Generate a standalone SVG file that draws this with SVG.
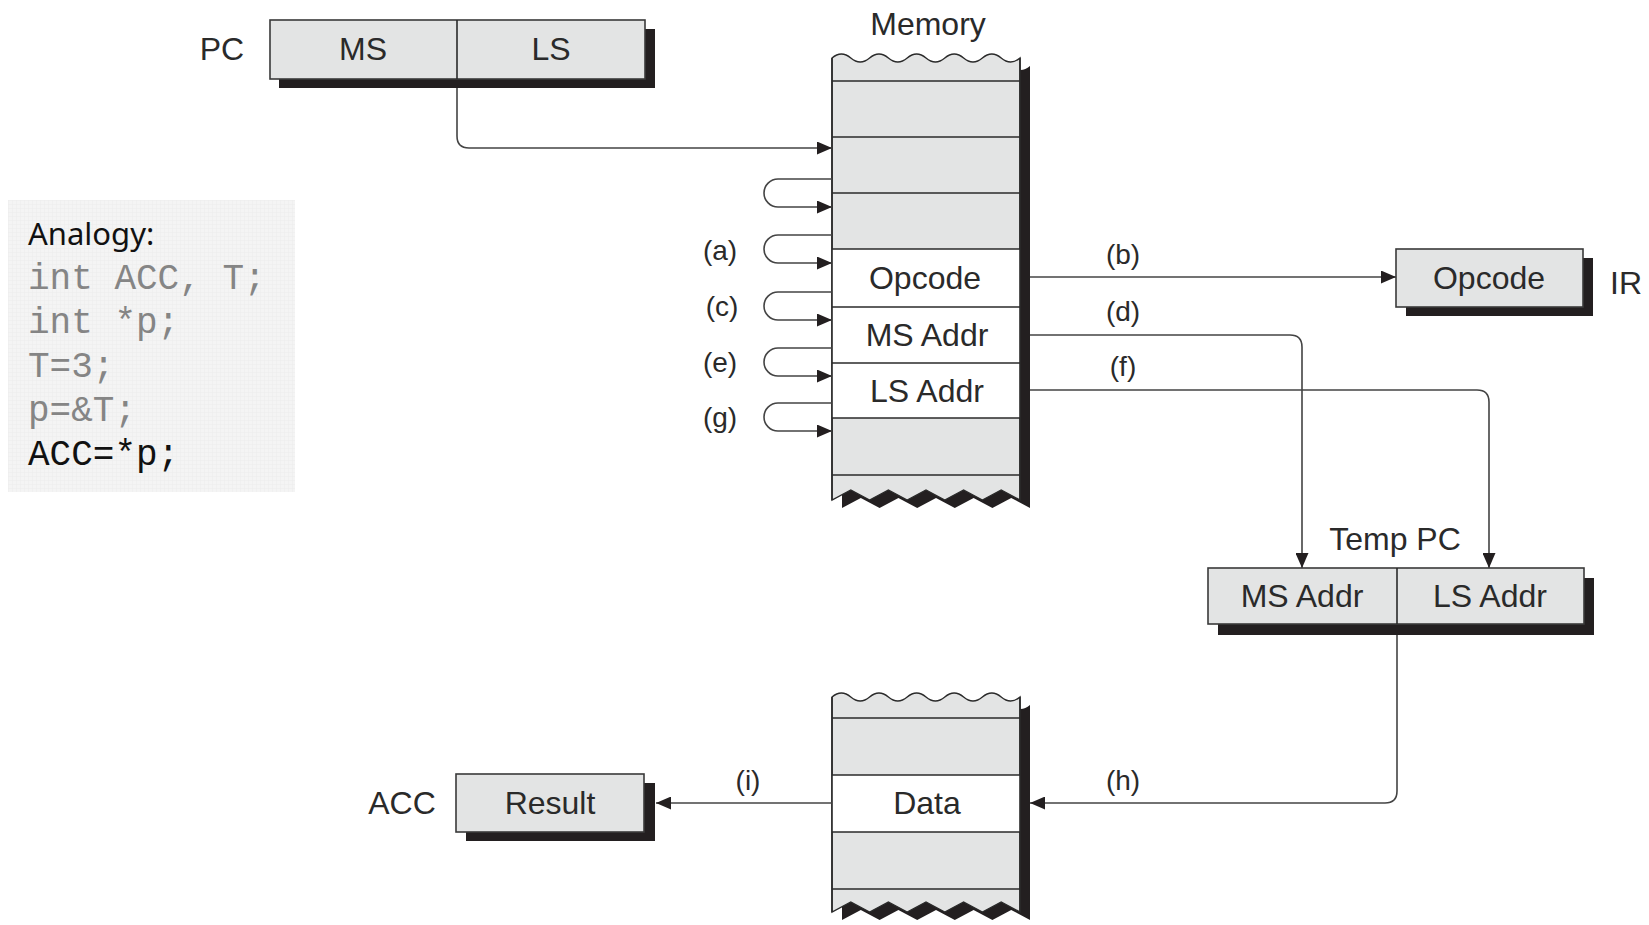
<svg xmlns="http://www.w3.org/2000/svg" width="1649" height="925" viewBox="0 0 1649 925">
<defs>
<style>
.t{font-size:32px;fill:#2a2a2a;text-anchor:middle}
.lbl{font-size:28px;fill:#2a2a2a;text-anchor:middle}
.box{fill:#e3e4e4;stroke:#3a3a3a;stroke-width:1.6}
.sh{fill:#231f20}
.row{stroke:#2a2a2a;stroke-width:1.6}
.mem{fill:#e3e4e4;stroke:#2a2a2a;stroke-width:1.4}
.con{fill:none;stroke:#444;stroke-width:1.6}
.code{font-size:36px;fill:#858585}
</style>
<marker id="ah" markerUnits="userSpaceOnUse" markerWidth="15" markerHeight="13" refX="15" refY="6.5" orient="auto">
<path d="M0,0 L15,6.5 L0,13 z" fill="#231f20"/>
</marker>
<pattern id="grid" width="4" height="4" patternUnits="userSpaceOnUse">
<rect width="4" height="4" fill="#f4f4f4"/>
<path d="M0,0H4M0,0V4" stroke="#ececec" stroke-width="1"/>
</pattern>
</defs>
<rect width="1649" height="925" fill="#ffffff"/>

<g id="analogy">
<rect x="8" y="200" width="287" height="292" fill="url(#grid)"/>
<text x="28" y="245" font-family="'Noto Sans', 'Open Sans', sans-serif" font-size="31" fill="#111">Analogy:</text>
<g font-family="'Liberation Mono', 'Courier New', Courier, monospace">
<text class="code" x="28" y="289">int ACC, T;</text>
<text class="code" x="28" y="333">int *p;</text>
<text class="code" x="28" y="377">T=3;</text>
<text class="code" x="28" y="421">p=&amp;T;</text>
<text class="code" x="28" y="465" style="fill:#111">ACC=*p;</text>
</g>
</g>

<g font-family="'Liberation Sans', Arial, Helvetica, sans-serif">
<g id="pc">
<rect class="sh" x="279" y="29" width="376" height="59"/>
<rect class="box" x="270" y="20" width="375" height="59"/>
<line class="row" x1="457" y1="20" x2="457" y2="79"/>
<text class="t" x="222" y="60">PC</text>
<text class="t" x="363" y="60">MS</text>
<text class="t" x="551" y="60">LS</text>
</g>

<g id="memory">
<text class="t" x="928" y="35">Memory</text>
<path class="sh" transform="translate(10,8)" d="M832,58 q9.4,-8 18.8,0 t18.8,0 t18.8,0 t18.8,0 t18.8,0 t18.8,0 t18.8,0 t18.8,0 t18.8,0 t18.8,0 L1020,500 L1001.2,490 L982.4,500 L963.6,490 L944.8,500 L926,490 L907.2,500 L888.4,490 L869.6,500 L850.8,490 L832,500 Z"/>
<path class="mem" d="M832,58 q9.4,-8 18.8,0 t18.8,0 t18.8,0 t18.8,0 t18.8,0 t18.8,0 t18.8,0 t18.8,0 t18.8,0 t18.8,0 L1020,500 L1001.2,490 L982.4,500 L963.6,490 L944.8,500 L926,490 L907.2,500 L888.4,490 L869.6,500 L850.8,490 L832,500 Z"/>
<rect x="832" y="249" width="188" height="169" fill="#ffffff"/>
<line class="row" x1="832" y1="81" x2="1020" y2="81"/>
<line class="row" x1="832" y1="137" x2="1020" y2="137"/>
<line class="row" x1="832" y1="193" x2="1020" y2="193"/>
<line class="row" x1="832" y1="249" x2="1020" y2="249"/>
<line class="row" x1="832" y1="307" x2="1020" y2="307"/>
<line class="row" x1="832" y1="363" x2="1020" y2="363"/>
<line class="row" x1="832" y1="418" x2="1020" y2="418"/>
<line class="row" x1="832" y1="475" x2="1020" y2="475"/>
<line class="row" x1="832" y1="58" x2="832" y2="500"/>
<line class="row" x1="1020" y1="58" x2="1020" y2="500"/>
<text class="t" x="925" y="289">Opcode</text>
<text class="t" x="927" y="346">MS Addr</text>
<text class="t" x="927" y="402">LS Addr</text>
</g>

<g id="ir">
<rect class="sh" x="1406" y="258" width="187" height="58"/>
<rect class="box" x="1396" y="249" width="187" height="58"/>
<text class="t" x="1489" y="289">Opcode</text>
<text class="t" x="1626" y="294">IR</text>
</g>

<g id="temppc">
<text class="t" x="1395" y="550">Temp PC</text>
<rect class="sh" x="1218" y="578" width="376" height="57"/>
<rect class="box" x="1208" y="568" width="376" height="56"/>
<line class="row" x1="1397" y1="568" x2="1397" y2="624"/>
<text class="t" x="1302" y="607">MS Addr</text>
<text class="t" x="1490" y="607">LS Addr</text>
</g>

<g id="datamem">
<path class="sh" transform="translate(10,8)" d="M832,697 q9.4,-8 18.8,0 t18.8,0 t18.8,0 t18.8,0 t18.8,0 t18.8,0 t18.8,0 t18.8,0 t18.8,0 t18.8,0 L1020,912 L1001.2,902 L982.4,912 L963.6,902 L944.8,912 L926,902 L907.2,912 L888.4,902 L869.6,912 L850.8,902 L832,912 Z"/>
<path class="mem" d="M832,697 q9.4,-8 18.8,0 t18.8,0 t18.8,0 t18.8,0 t18.8,0 t18.8,0 t18.8,0 t18.8,0 t18.8,0 t18.8,0 L1020,912 L1001.2,902 L982.4,912 L963.6,902 L944.8,912 L926,902 L907.2,912 L888.4,902 L869.6,912 L850.8,902 L832,912 Z"/>
<rect x="832" y="775" width="188" height="57" fill="#ffffff"/>
<line class="row" x1="832" y1="718" x2="1020" y2="718"/>
<line class="row" x1="832" y1="775" x2="1020" y2="775"/>
<line class="row" x1="832" y1="832" x2="1020" y2="832"/>
<line class="row" x1="832" y1="889" x2="1020" y2="889"/>
<line class="row" x1="832" y1="697" x2="832" y2="912"/>
<line class="row" x1="1020" y1="697" x2="1020" y2="912"/>
<text class="t" x="927" y="814">Data</text>
</g>

<g id="acc">
<rect class="sh" x="466" y="783" width="189" height="58"/>
<rect class="box" x="456" y="774" width="188" height="58"/>
<text class="t" x="550" y="814">Result</text>
<text class="t" x="402" y="814">ACC</text>
</g>

<g id="connectors">
<path class="con" marker-end="url(#ah)" d="M457,88 V136 Q457,148 469,148 H832"/>
<path class="con" marker-end="url(#ah)" d="M832,179 H778 A14,14 0 0 0 778,207 H832"/>
<path class="con" marker-end="url(#ah)" d="M832,235 H778 A14,14 0 0 0 778,263 H832"/>
<path class="con" marker-end="url(#ah)" d="M832,292 H778 A14,14 0 0 0 778,320 H832"/>
<path class="con" marker-end="url(#ah)" d="M832,348 H778 A14,14 0 0 0 778,376 H832"/>
<path class="con" marker-end="url(#ah)" d="M832,403 H778 A14,14 0 0 0 778,431 H832"/>
<path class="con" marker-end="url(#ah)" d="M1030,277 H1396"/>
<path class="con" marker-end="url(#ah)" d="M1030,335 H1290 Q1302,335 1302,347 V568"/>
<path class="con" marker-end="url(#ah)" d="M1030,390 H1477 Q1489,390 1489,402 V568"/>
<path class="con" marker-end="url(#ah)" d="M1397,635 V791 Q1397,803 1385,803 H1030"/>
<path class="con" marker-end="url(#ah)" d="M832,803 H656"/>
<text class="lbl" x="720" y="260">(a)</text>
<text class="lbl" x="722" y="316">(c)</text>
<text class="lbl" x="720" y="372">(e)</text>
<text class="lbl" x="720" y="427">(g)</text>
<text class="lbl" x="1123" y="264">(b)</text>
<text class="lbl" x="1123" y="321">(d)</text>
<text class="lbl" x="1123" y="376">(f)</text>
<text class="lbl" x="1123" y="790">(h)</text>
<text class="lbl" x="748" y="790">(i)</text>
</g>
</g>
</svg>
